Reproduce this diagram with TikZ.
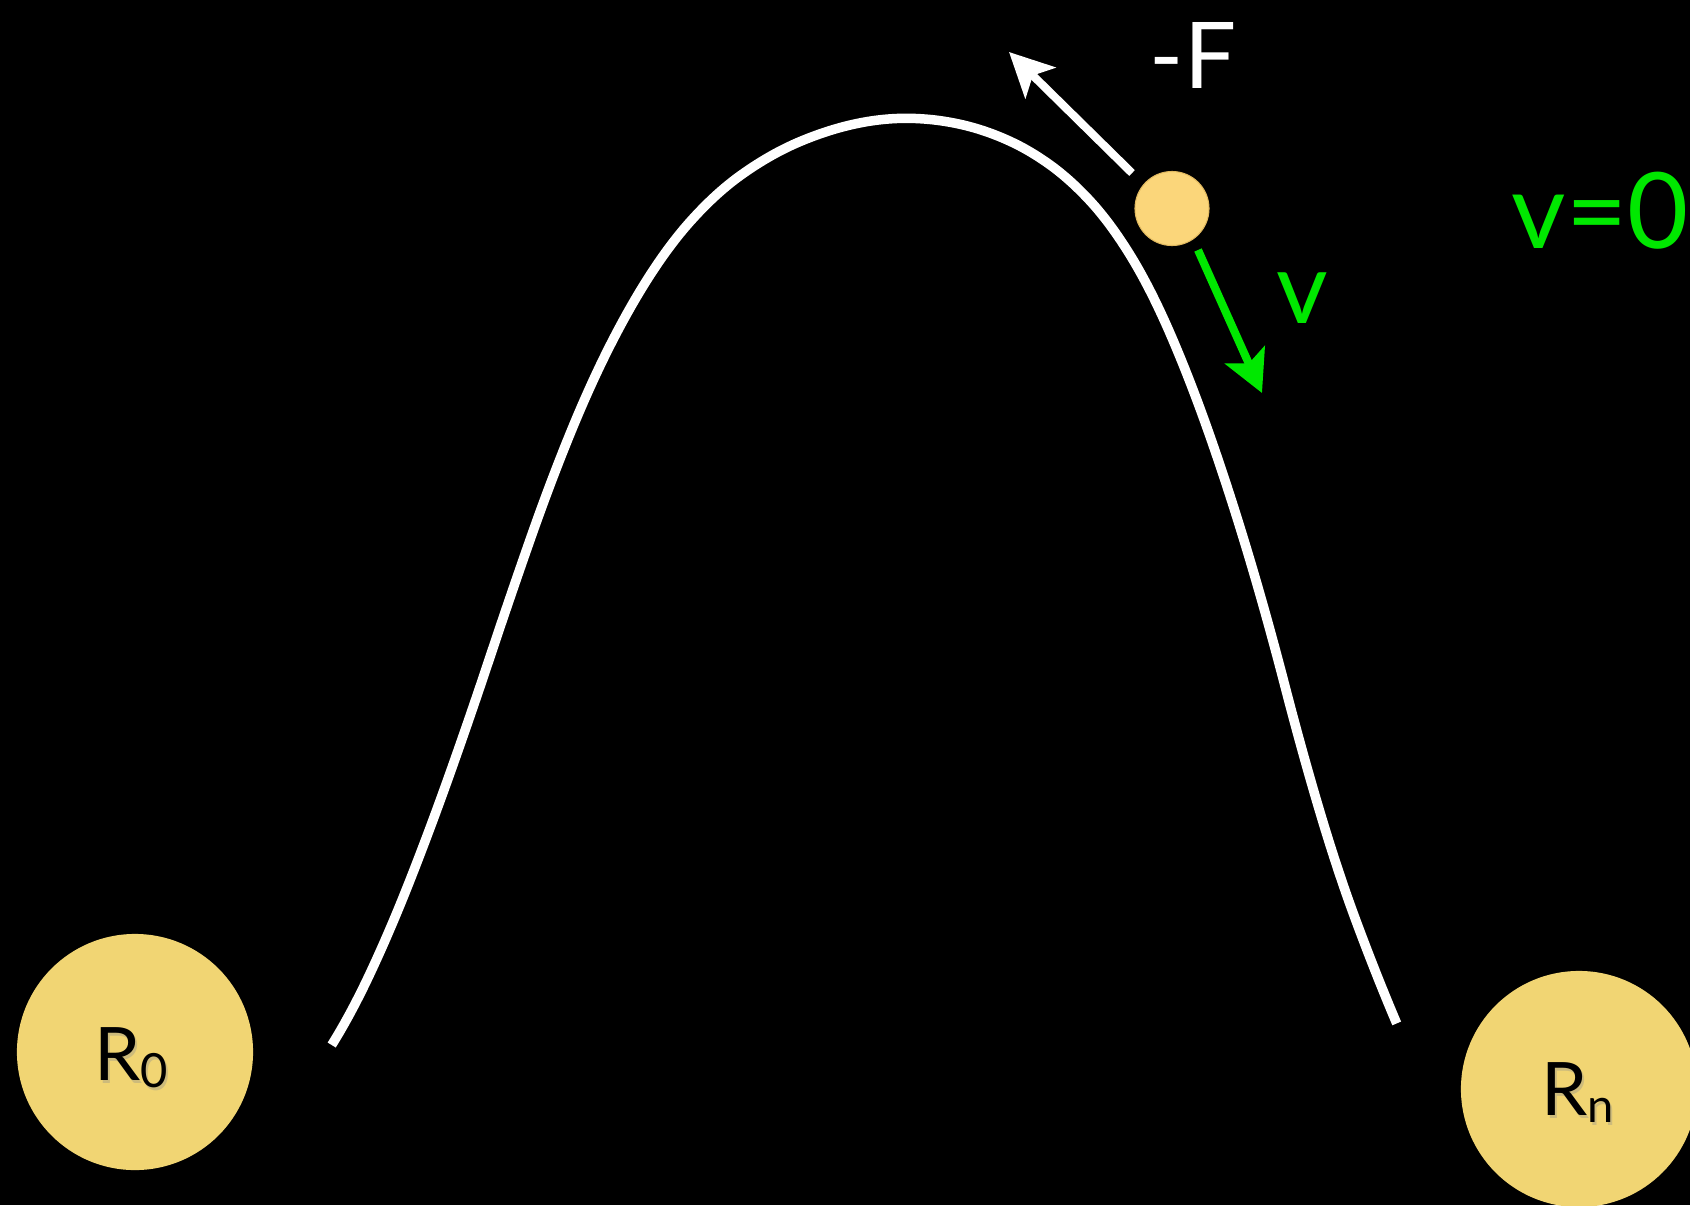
\documentclass[tikz,border=0pt]{standalone}
\usepackage{fontspec}
\setmainfont{Lato}
\usetikzlibrary{arrows.meta}
\definecolor{ballc}{RGB}{251,214,122}
\definecolor{ballrim}{RGB}{225,185,95}
\definecolor{bigc}{RGB}{241,213,115}
\definecolor{vgreen}{RGB}{0,232,0}
\begin{document}
\begin{tikzpicture}[x=0.01cm,y=-0.01cm,
  bigdisc/.style={circle,fill=bigc,minimum size=2.36cm,inner sep=0pt},
  ballnode/.style={circle,fill=ballc,draw=ballrim,line width=0.3pt,minimum size=0.74cm,inner sep=0pt},
  track/.style={white,line width=2.7pt},
  farrow/.style={white,line width=2.3pt,-{Stealth[length=12.5pt,width=12.2pt,inset=3pt]}},
  varrow/.style={vgreen,line width=2.3pt,-{Stealth[length=11.8pt,width=12.2pt,inset=2.6pt]}},
  lbl/.style={inner sep=0pt},
  rlbl/.style={inner sep=0pt,anchor=base west,text=black,font=\fontsize{21pt}{22pt}\selectfont}]
\useasboundingbox (0,0) rectangle (1690,1205);
\clip (0,0) rectangle (1690,1205);
\fill[black] (0,0) rectangle (1690,1205);

% reactant / product discs
\node[bigdisc] (r0) at (135,1052) {};
\node[bigdisc] (rn) at (1579,1089) {};
\node[rlbl,text=black!45,opacity=0.35] at (96,1083) {R\raisebox{-2pt}{\fontsize{13.4pt}{14pt}\selectfont 0}};
\node[rlbl] (r0lab) at (94,1080) {R\raisebox{-2pt}{\fontsize{13.4pt}{14pt}\selectfont 0}};
\node[rlbl,text=black!45,opacity=0.35] at (1543,1118) {R\raisebox{-2pt}{\fontsize{13.4pt}{14pt}\selectfont n}};
\node[rlbl] (rnlab) at (1541,1115) {R\raisebox{-2pt}{\fontsize{13.4pt}{14pt}\selectfont n}};

% energy barrier
\draw[track] (331.7,1045)
  .. controls (344.47,1024.57) and (357.23,1000.76) .. (370,973.57)
  .. controls (383.33,945.17) and (396.67,914.04) .. (410,880.17)
  .. controls (423.33,846.3) and (436.67,810.64) .. (450,773.17)
  .. controls (463.33,735.7) and (476.67,696.97) .. (490,656.97)
  .. controls (503.33,616.97) and (516.67,577.97) .. (530,539.97)
  .. controls (543.33,501.97) and (556.67,466.64) .. (570,433.97)
  .. controls (583.33,401.3) and (596.67,371.84) .. (610,345.57)
  .. controls (623.33,319.3) and (636.67,295.84) .. (650,275.17)
  .. controls (663.33,254.5) and (676.67,236.7) .. (690,221.77)
  .. controls (706.67,203.1) and (723.33,187.77) .. (740,175.77)
  .. controls (760,161.37) and (780,149.97) .. (800,141.57)
  .. controls (835.33,126.73) and (870.67,118.3) .. (906,118.3)
  .. controls (924,118.3) and (942,120.28) .. (960,124.24)
  .. controls (976.67,127.91) and (993.33,133.57) .. (1010,141.24)
  .. controls (1023.33,147.37) and (1036.67,155.24) .. (1050,164.84)
  .. controls (1063.33,174.44) and (1076.67,186.44) .. (1090,200.84)
  .. controls (1103.33,215.24) and (1116.67,233.24) .. (1130,254.84)
  .. controls (1143.33,276.44) and (1156.67,302.57) .. (1170,333.24)
  .. controls (1183.33,363.91) and (1196.67,398.24) .. (1210,436.24)
  .. controls (1223.33,474.24) and (1236.67,515.57) .. (1250,560.24)
  .. controls (1261.67,599.32) and (1273.33,641.32) .. (1285,686.24)
  .. controls (1296.67,731.16) and (1308.33,773.16) .. (1320,812.24)
  .. controls (1331.67,851.32) and (1343.33,886.6) .. (1355,918.1)
  .. controls (1368.9,955.63) and (1382.8,990.73) .. (1396.7,1023.4);

% ball
\node[ballnode] (ball) at (1172,208.5) {};

% force and velocity arrows
\coordinate (ftail) at (1132,173);
\coordinate (ftip) at (1009,52);
\draw[farrow] (ftail) -- (ftip);
\coordinate (vtail) at (1198,250);
\coordinate (vtip) at (1262,393);
\draw[varrow] (vtail) -- (vtip);

% labels
\node[lbl,text=white,font=\fontsize{26.2pt}{27pt}\selectfont] (flab) at (1193,55) {-F};
\node[lbl,text=vgreen,font=\fontsize{28.5pt}{30pt}\selectfont] (vlab) at (1302,298) {v};
\node[lbl,text=vgreen,font=\fontsize{30pt}{31pt}\selectfont] (v0lab) at (1600,210.5) {v=0};
\end{tikzpicture}
\end{document}
